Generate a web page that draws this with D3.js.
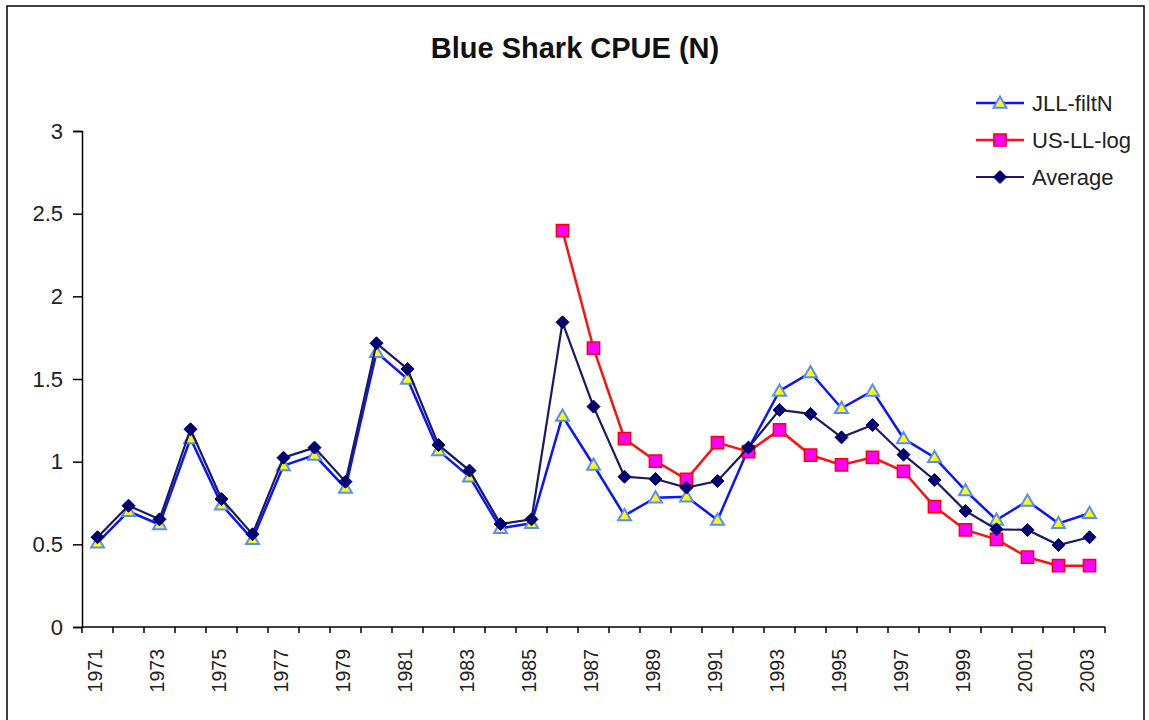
<!DOCTYPE html>
<html><head><meta charset="utf-8">
<script src="https://cdn.jsdelivr.net/npm/d3@7"></script>
<style>html,body{margin:0;padding:0;background:#fff;}svg{display:block;font-family:"Liberation Sans",Arial,sans-serif;}</style>
</head><body>
<script>
const years = d3.range(1971, 2004);
const jllFiltN = [0.51,0.70,0.62,1.14,0.74,0.53,0.976,1.04,0.84,1.662,1.50,1.067,0.909,0.597,0.627,1.276,0.98,0.674,0.782,0.788,0.647,1.08,1.428,1.539,1.323,1.428,1.14,1.026,0.825,0.647,0.762,0.627,0.688];
const usLLlog = [null,null,null,null,null,null,null,null,null,null,null,null,null,null,null,2.397,1.686,1.139,1.004,0.893,1.115,1.061,1.192,1.04,0.98,1.026,0.942,0.728,0.587,0.530,0.422,0.371,0.371];
const average = [0.543,0.734,0.651,1.196,0.774,0.561,1.024,1.085,0.879,1.716,1.561,1.101,0.946,0.623,0.651,1.843,1.333,0.909,0.895,0.843,0.883,1.085,1.313,1.289,1.147,1.222,1.042,0.889,0.702,0.591,0.587,0.496,0.543];
const yTicks = [0,0.5,1,1.5,2,2.5,3];
const title = "Blue Shark CPUE (N)";
const seriesNames = ["JLL-filtN","US-LL-log","Average"];

const W = 1149, H = 720;
const svg = d3.select("body").append("svg").attr("width", W).attr("height", H);
svg.append("rect").attr("x",7).attr("y",6).attr("width",1137).attr("height",740)
  .attr("fill","#fff").attr("stroke","#000").attr("stroke-width",1.5);

const x0 = 82, x1 = 1105, yTop = 131, yBot = 627;
const x = d3.scaleBand().domain(years).range([x0, x1]);
const y = d3.scaleLinear().domain([0,3]).range([yBot, yTop]);

svg.append("text").attr("x", 575).attr("y", 58).attr("text-anchor","middle")
  .attr("font-size", 29).attr("font-weight","bold").attr("fill","#111").text(title);

// Y axis
const yAxis = d3.axisLeft(y).tickValues(yTicks).tickFormat(d3.format("")).tickSize(9).tickPadding(10);
const gy = svg.append("g").attr("transform",`translate(${x0},0)`).call(yAxis);
gy.select(".domain").attr("stroke","#000").attr("stroke-width",1.5);
gy.selectAll(".tick line").attr("stroke","#000").attr("stroke-width",1.5);
gy.selectAll(".tick text").attr("font-size",22).attr("fill","#222").attr("font-family","Liberation Sans, Arial, sans-serif");

// X axis line and ticks at category boundaries
svg.append("line").attr("x1",x0).attr("x2",x1).attr("y1",yBot).attr("y2",yBot).attr("stroke","#000").attr("stroke-width",1.5);
const bounds = years.map(d => x(d)).concat([x1]);
svg.selectAll("line.xt").data(bounds).enter().append("line").attr("class","xt")
  .attr("x1",d=>d).attr("x2",d=>d).attr("y1",yBot).attr("y2",yBot+6).attr("stroke","#000").attr("stroke-width",1.5);
svg.selectAll("text.xl").data(years.filter((d,i)=>i%2===0)).enter().append("text").attr("class","xl")
  .attr("transform", d => `translate(${x(d)+x.bandwidth()/2+4},${yBot+22}) rotate(-90)`)
  .attr("text-anchor","end").attr("font-size",19.5).attr("fill","#222").text(d=>d);

const cx = d => x(d) + x.bandwidth()/2;
const line = d3.line().defined(d => d.v != null).x(d => cx(d.yr)).y(d => y(d.v));
const mk = arr => years.map((yr,i)=>({yr, v: arr[i]}));

const diamond = "M0,-6.5L6.5,0L0,6.5L-6.5,0Z";
const styles = [
  {data: jllFiltN, line: "#0a14ff", lw: 2.5, d: d3.symbol().type(d3.symbolTriangle).size(72)(), dy: 1, fill: "#ffff00", stroke: "#5a8cff", sw: 2},
  {data: usLLlog, line: "#ff1010", lw: 2.5, d: d3.symbol().type(d3.symbolSquare).size(150)(), dy: 0, fill: "#ff00ff", stroke: "#ff0000", sw: 1.5},
  {data: average, line: "#1a1a60", lw: 2.2, d: diamond, dy: 0, fill: "#000070", stroke: "#000070", sw: 1}
];

styles.forEach(s => {
  const pts = mk(s.data);
  svg.append("path").datum(pts).attr("d", line).attr("fill","none").attr("stroke", s.line).attr("stroke-width", s.lw);
  svg.append("g").selectAll("path").data(pts.filter(d=>d.v!=null)).enter().append("path")
    .attr("d", s.d)
    .attr("transform", d => `translate(${cx(d.yr)},${y(d.v) + s.dy})`)
    .attr("fill", s.fill).attr("stroke", s.stroke).attr("stroke-width", s.sw);
});

// Legend
const lg = svg.append("g");
const ly = [103, 140, 177];
styles.forEach((s,i) => {
  lg.append("line").attr("x1",976).attr("x2",1024).attr("y1",ly[i]).attr("y2",ly[i]).attr("stroke",s.line).attr("stroke-width",s.lw);
  lg.append("path").attr("d", s.d)
    .attr("transform",`translate(1000,${ly[i] + s.dy})`)
    .attr("fill",s.fill).attr("stroke",s.stroke).attr("stroke-width",s.sw);
  lg.append("text").attr("x",1032).attr("y",ly[i]+8).attr("font-size",22).attr("fill","#222").text(seriesNames[i]);
});
</script>
</body></html>
